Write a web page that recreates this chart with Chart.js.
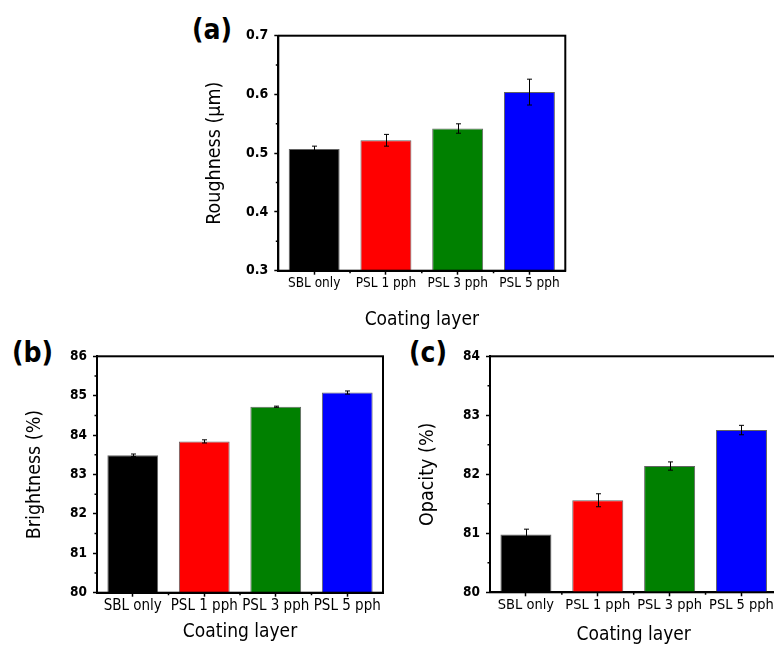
<!DOCTYPE html>
<html>
<head>
<meta charset="utf-8">
<script src="https://cdn.jsdelivr.net/npm/chart.js@4.4.1/dist/chart.umd.min.js"></script>
<style>
  html, body { margin: 0; padding: 0; background: #fff; overflow: hidden; }
  body { width: 774px; height: 646px; position: relative; }
  canvas { position: absolute; }
  .tag { position: absolute; font-family: 'DejaVu Sans Condensed', 'DejaVu Sans', sans-serif;
         font-weight: bold; font-size: 28px; line-height: 1; color: #000; }
</style>
</head>
<body>
<div class="tag" style="left:192px; top:16px;">(a)</div>
<div class="tag" style="left:12px; top:339px;">(b)</div>
<div class="tag" style="left:409px; top:339px;">(c)</div>
<canvas id="chartA" width="400" height="340" style="left:190px; top:0px;"></canvas>
<canvas id="chartB" width="400" height="320" style="left:0px; top:330px;"></canvas>
<canvas id="chartC" width="390" height="322" style="left:390px; top:330px;"></canvas>
<script>
const categories = ['SBL only', 'PSL 1 pph', 'PSL 3 pph', 'PSL 5 pph'];

const roughness = [0.507, 0.522, 0.542, 0.604];
const roughnessErr = [0.005, 0.010, 0.008, 0.022];

const brightness = [83.49, 83.84, 84.72, 85.08];
const brightnessErr = [0.03, 0.04, 0.015, 0.04];

const opacity = [80.98, 81.56, 82.14, 82.75];
const opacityErr = [0.09, 0.11, 0.07, 0.08];

const barColors = ['#000000', '#ff0000', '#008000', '#0000ff'];
const FONT = "'DejaVu Sans Condensed', 'DejaVu Sans', sans-serif";

// error bars, frame and the small in-between ticks
const extras = {
    id: 'extras',
    afterDatasetsDraw(chart) {
        const ctx = chart.ctx;
        const ds = chart.data.datasets[0];
        const y = chart.scales.y;
        ctx.save();
        ctx.strokeStyle = '#000';
        ctx.lineWidth = 1;
        chart.getDatasetMeta(0).data.forEach((bar, i) => {
            const top = y.getPixelForValue(ds.data[i] + ds.errors[i]);
            const bot = y.getPixelForValue(ds.data[i] - ds.errors[i]);
            const x = Math.round(bar.x) + 0.5;
            ctx.beginPath();
            ctx.moveTo(x, top); ctx.lineTo(x, bot);
            ctx.moveTo(x - 2.5, top); ctx.lineTo(x + 2.5, top);
            ctx.moveTo(x - 2.5, bot); ctx.lineTo(x + 2.5, bot);
            ctx.stroke();
        });
        ctx.restore();
    },
    afterDraw(chart) {
        const ctx = chart.ctx;
        const a = chart.chartArea;
        const x = chart.scales.x, y = chart.scales.y;
        ctx.save();
        ctx.strokeStyle = '#000';
        ctx.lineWidth = 2;
        ctx.strokeRect(a.left, a.top, a.right - a.left, a.bottom - a.top);
        ctx.lineWidth = 1.5;
        ctx.beginPath();
        const step = y.options.ticks.stepSize;
        for (let v = y.min + step / 2; v < y.max; v += step) {
            const py = y.getPixelForValue(v);
            ctx.moveTo(a.left - 2.5, py); ctx.lineTo(a.left, py);
        }
        for (let i = 0; i < categories.length - 1; i++) {
            const px = (x.getPixelForValue(i) + x.getPixelForValue(i + 1)) / 2;
            ctx.moveTo(px, a.bottom); ctx.lineTo(px, a.bottom + 2.5);
        }
        ctx.stroke();
        ctx.restore();
    }
};

function makeChart(id, values, errors, yTitle, yMin, yMax, yStep, decimals, geo) {
    return new Chart(document.getElementById(id), {
        type: 'bar',
        data: {
            labels: categories,
            datasets: [{
                data: values,
                errors: errors,
                backgroundColor: barColors,
                borderColor: 'rgba(60,60,60,0.8)',
                borderWidth: 1,
                borderSkipped: 'bottom',
                categoryPercentage: 1,
                barPercentage: 0.71
            }]
        },
        options: {
            responsive: false,
            animation: false,
            layout: { padding: geo.pad },
            plugins: { legend: { display: false }, tooltip: { enabled: false } },
            scales: {
                x: {
                    grid: { display: true, drawOnChartArea: false, offset: false,
                            tickLength: 4, tickColor: '#000', tickWidth: 1.5 },
                    border: { display: true, color: '#000', width: 2 },
                    ticks: { color: '#000', autoSkip: false, maxRotation: 0, minRotation: 0,
                             padding: geo.xPad, font: { family: FONT, size: geo.xFont } },
                    title: { display: true, text: 'Coating layer', color: '#000',
                             font: { family: FONT, size: 19 } },
                    afterFit: s => { s.height = geo.xHeight; }
                },
                y: {
                    min: yMin, max: yMax,
                    grid: { display: true, drawOnChartArea: false,
                            tickLength: 4, tickColor: '#000', tickWidth: 1.5 },
                    border: { display: true, color: '#000', width: 2 },
                    ticks: { stepSize: yStep, color: '#000', padding: 6,
                             font: { family: FONT, size: geo.yFont, weight: 'bold' },
                             callback: v => v.toFixed(decimals) },
                    title: { display: true, text: yTitle, color: '#000',
                             font: { family: FONT, size: 19.5 } },
                    afterFit: s => { s.width = geo.yWidth; }
                }
            }
        },
        plugins: [extras]
    });
}

makeChart('chartA', roughness, roughnessErr, 'Roughness (μm)', 0.3, 0.7, 0.1, 1, {
    pad: { left: 9.6, top: 35.7, right: 24.7, bottom: 4.3 },
    yWidth: 78.7, xHeight: 65, xFont: 13.5, yFont: 14, xPad: 1
});
makeChart('chartB', brightness, brightnessErr, 'Brightness (%)', 80, 86, 1, 0, {
    pad: { left: 19.1, top: 26.3, right: 17, bottom: 2.6 },
    yWidth: 77.9, xHeight: 54.7, xFont: 15, yFont: 13.5, xPad: 0
});
makeChart('chartC', opacity, opacityErr, 'Opacity (%)', 80, 84, 1, 0, {
    pad: { left: 22.1, top: 26.3, right: 2.6, bottom: 1.6 },
    yWidth: 77.9, xHeight: 58.1, xFont: 14.5, yFont: 13.5, xPad: 0
});
</script>
</body>
</html>
